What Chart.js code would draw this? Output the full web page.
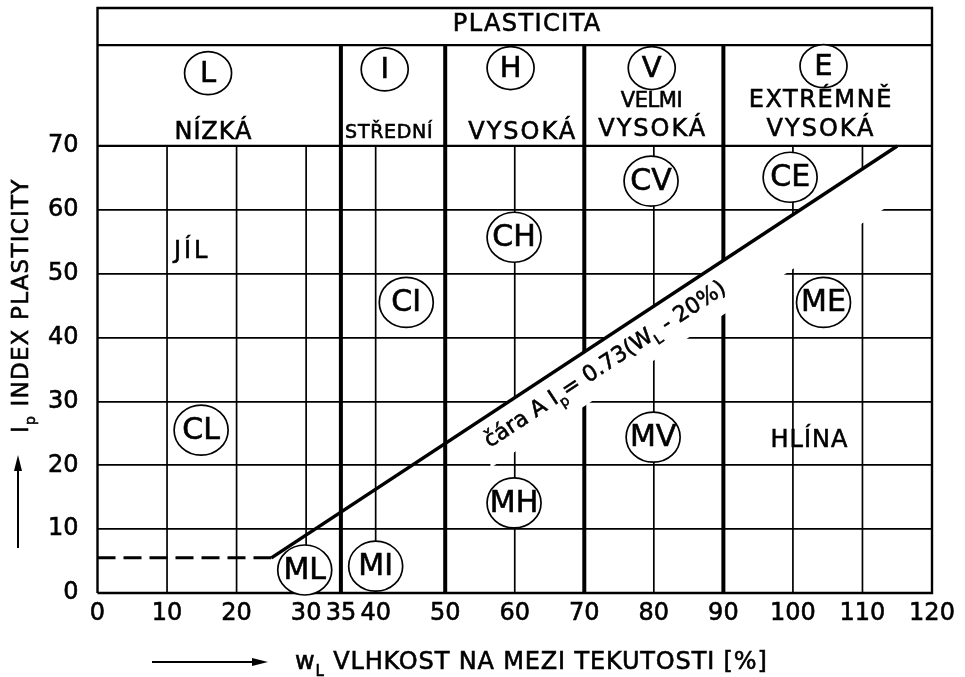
<!DOCTYPE html>
<html>
<head>
<meta charset="utf-8">
<script src="https://cdn.jsdelivr.net/npm/chart.js@4.4.0/dist/chart.umd.min.js"></script>
<style>
  html, body { margin: 0; padding: 0; background: #fff; }
  #wrap { width: 965px; height: 677px; }
</style>
</head>
<body>
<div id="wrap"><canvas id="plasticityChart"></canvas></div>
<script>
// axes
const xTicks = [0, 10, 20, 30, 35, 40, 50, 60, 70, 80, 90, 100, 110, 120];
const yTicks = [0, 10, 20, 30, 40, 50, 60, 70];
const xGrid = [10, 20, 30, 40, 60, 80, 100, 110];
const dividers = [35, 50, 70, 90];
const yTop = 91.6;      // top edge of the header box
const yHeader = 85.8;   // line under PLASTICITA

// A-line and its dashed continuation
const aLineX = [25, 115];
const aLineY = [5.5, 70];
const dashX = [0, 25];
const dashY = [5.5, 5.5];

// plasticity classes in the header
const classNames = ['L', 'I', 'H', 'V', 'E'];
const classX = [15.9, 41.3, 59.4, 79.7, 104.4];
const classY = [81.4, 82.0, 82.2, 82.2, 82.5];

const headerWords = ['NÍZKÁ', 'STŘEDNÍ', 'VYSOKÁ', 'VELMI', 'VYSOKÁ', 'EXTRÉMNĚ', 'VYSOKÁ'];
const headerWordX = [16.6, 41.9, 61.0, 79.7, 79.7, 103.9, 103.9];
const headerWordY = [72.1, 72.0, 72.1, 77.0, 72.5, 77.0, 72.5];

// soil groups
const groupNames = ['CL', 'CI', 'CH', 'CV', 'CE', 'ML', 'MI', 'MH', 'MV', 'ME'];
const groupX = [14.9, 44.4, 59.9, 79.6, 99.6, 29.8, 40.0, 59.9, 79.9, 104.4];
const groupY = [25.5, 45.5, 55.7, 64.5, 65.1, 3.6, 4.2, 14.1, 24.4, 45.5];

const soilWords = ['JÍL', 'HLÍNA'];
const soilWordX = [13.4, 102.3];
const soilWordY = [53.4, 23.9];

const FONT = '"DejaVu Sans", Verdana, sans-serif';
const bandDepth = 8.5;
const inkWidth = 0.6;   // extra stroke on text, the scan is heavy

// font size and letter spacing of the header words
const wordStyle = {
  'NÍZKÁ': [24, 0.9], 'STŘEDNÍ': [19, 0.7], 'VYSOKÁ': [24, 2],
  'VELMI': [21, -0.4], 'EXTRÉMNĚ': [24, 1.6], 'JÍL': [24, 3], 'HLÍNA': [24, 1]
};

function pts(xs, ys) {
  return xs.map((x, i) => ({ x: x, y: ys[i] }));
}

function lineSet(data, width, dash) {
  return {
    data: data,
    showLine: true,
    borderColor: '#000',
    borderWidth: width,
    borderDash: dash || [],
    pointRadius: 0,
    fill: false,
    clip: false
  };
}

const datasets = [
  lineSet(pts(aLineX, aLineY), 3.5),
  lineSet(pts(dashX, dashY), 3, [18, 8]),
  lineSet(pts([0, 120, 120, 0, 0], [0, 0, yTop, yTop, 0]), 2.4),
  lineSet(pts([0, 120], [yHeader, yHeader]), 2.2),
  lineSet(pts([0, 120], [70, 70]), 2.2)
];
dividers.forEach(d => datasets.push(lineSet(pts([d, d], [0, yHeader]), 4)));

function aLineAt(x) {
  const t = (x - aLineX[0]) / (aLineX[1] - aLineX[0]);
  return aLineY[0] + t * (aLineY[1] - aLineY[0]);
}

function inkText(ctx, text, x, y) {
  ctx.fillText(text, x, y);
  ctx.lineWidth = inkWidth;
  ctx.strokeText(text, x, y);
}

function spacedText(ctx, text, x, y, size, spacing) {
  ctx.font = size + 'px ' + FONT;
  ctx.letterSpacing = (spacing || 0) + 'px';
  ctx.textAlign = 'center';
  ctx.textBaseline = 'middle';
  inkText(ctx, text, x + (spacing || 0) / 2, y);
  ctx.letterSpacing = '0px';
}

// draws a run of text pieces, some of them as subscripts
function richText(ctx, parts, size, spacing) {
  let cx = 0;
  ctx.letterSpacing = spacing + 'px';
  ctx.textAlign = 'left';
  ctx.textBaseline = 'alphabetic';
  parts.forEach(p => {
    const s = p.sub ? Math.round(size * 0.62) : size;
    ctx.font = s + 'px ' + FONT;
    inkText(ctx, p.t, cx, p.sub ? size * 0.3 : 0);
    cx += ctx.measureText(p.t).width;
  });
  ctx.letterSpacing = '0px';
}

function arrow(ctx, x0, y0, x1, y1) {
  const ang = Math.atan2(y1 - y0, x1 - x0);
  ctx.beginPath();
  ctx.moveTo(x0, y0);
  ctx.lineTo(x1 - 12 * Math.cos(ang), y1 - 12 * Math.sin(ang));
  ctx.lineWidth = 2;
  ctx.stroke();
  ctx.beginPath();
  ctx.moveTo(x1, y1);
  ctx.lineTo(x1 - 16 * Math.cos(ang) + 4 * Math.sin(ang), y1 - 16 * Math.sin(ang) - 4 * Math.cos(ang));
  ctx.lineTo(x1 - 16 * Math.cos(ang) - 4 * Math.sin(ang), y1 - 16 * Math.sin(ang) + 4 * Math.cos(ang));
  ctx.closePath();
  ctx.fill();
}

const chartDecor = {
  id: 'chartDecor',
  beforeDatasetsDraw(chart) {
    const { ctx, scales: { x, y } } = chart;
    ctx.save();
    ctx.strokeStyle = '#000';
    ctx.lineWidth = 1.7;
    xGrid.forEach(v => {
      ctx.beginPath();
      ctx.moveTo(x.getPixelForValue(v), y.getPixelForValue(0));
      ctx.lineTo(x.getPixelForValue(v), y.getPixelForValue(70));
      ctx.stroke();
    });
    ctx.restore();
  },
  beforeDatasetDraw(chart, args) {
    if (args.index !== 0) return;
    // white band under the A-line where the label sits
    const { ctx, scales: { x, y } } = chart;
    const x0 = 56.5, x1 = aLineX[1];
    ctx.save();
    ctx.fillStyle = '#fff';
    ctx.beginPath();
    ctx.moveTo(x.getPixelForValue(x0), y.getPixelForValue(aLineAt(x0)));
    ctx.lineTo(x.getPixelForValue(x1), y.getPixelForValue(aLineAt(x1)));
    ctx.lineTo(x.getPixelForValue(x1), y.getPixelForValue(aLineAt(x1) - bandDepth));
    ctx.lineTo(x.getPixelForValue(x0), y.getPixelForValue(aLineAt(x0) - bandDepth));
    ctx.closePath();
    ctx.fill();
    ctx.restore();
  },
  afterDatasetsDraw(chart) {
    const { ctx, scales: { x, y } } = chart;
    ctx.save();
    ctx.fillStyle = '#000';
    ctx.strokeStyle = '#000';

    const ellipse = (px, py, rx, ry) => {
      ctx.beginPath();
      ctx.ellipse(px, py, rx, ry, 0, 0, Math.PI * 2);
      ctx.fillStyle = '#fff';
      ctx.fill();
      ctx.lineWidth = 1.7;
      ctx.stroke();
      ctx.fillStyle = '#000';
    };

    classNames.forEach((n, i) => {
      const px = x.getPixelForValue(classX[i]), py = y.getPixelForValue(classY[i]);
      ellipse(px, py, 23.5, 21.5);
      spacedText(ctx, n, px, py + 1, 29, 0);
    });
    groupNames.forEach((n, i) => {
      const px = x.getPixelForValue(groupX[i]), py = y.getPixelForValue(groupY[i]);
      ellipse(px, py, 27, 25);
      spacedText(ctx, n, px, py + 1, 30, 0);
    });

    spacedText(ctx, 'PLASTICITA', x.getPixelForValue(61.7), y.getPixelForValue(88.9), 24, 1.4);
    headerWords.forEach((w, i) => {
      const st = wordStyle[w];
      spacedText(ctx, w, x.getPixelForValue(headerWordX[i]), y.getPixelForValue(headerWordY[i]), st[0], st[1]);
    });
    soilWords.forEach((w, i) => {
      const st = wordStyle[w];
      spacedText(ctx, w, x.getPixelForValue(soilWordX[i]), y.getPixelForValue(soilWordY[i]), st[0], st[1]);
    });

    // A-line label, parallel to the line
    const p0 = { x: x.getPixelForValue(aLineX[0]), y: y.getPixelForValue(aLineY[0]) };
    const p1 = { x: x.getPixelForValue(aLineX[1]), y: y.getPixelForValue(aLineY[1]) };
    const ang = Math.atan2(p1.y - p0.y, p1.x - p0.x);
    ctx.translate(x.getPixelForValue(56.4), y.getPixelForValue(22.7));
    ctx.rotate(ang);
    richText(ctx, [
      { t: 'čára A I' }, { t: 'p', sub: true }, { t: '= 0.73(W' }, { t: 'L', sub: true }, { t: ' - 20%)' }
    ], 22, 0);
    ctx.restore();
  },
  afterDraw(chart) {
    const { ctx } = chart;
    ctx.save();
    ctx.fillStyle = '#000';
    ctx.strokeStyle = '#000';
    // x axis title
    ctx.translate(295, 669);
    richText(ctx, [{ t: 'w' }, { t: 'L', sub: true }, { t: ' VLHKOST NA MEZI TEKUTOSTI [%]' }], 24, 0.85);
    ctx.restore();

    ctx.save();
    ctx.fillStyle = '#000';
    ctx.strokeStyle = '#000';
    ctx.translate(28, 433);
    ctx.rotate(-Math.PI / 2);
    richText(ctx, [{ t: 'I' }, { t: 'p', sub: true }, { t: ' INDEX PLASTICITY' }], 23, 1.2);
    ctx.restore();

    ctx.save();
    ctx.fillStyle = '#000';
    ctx.strokeStyle = '#000';
    arrow(ctx, 152, 662, 268, 662);
    arrow(ctx, 18, 548, 18, 455);
    ctx.restore();
  }
};

Chart.defaults.color = '#000';
Chart.defaults.font.family = FONT;

new Chart(document.getElementById('plasticityChart'), {
  type: 'scatter',
  data: { datasets: datasets },
  options: {
    responsive: true,
    maintainAspectRatio: false,
    animation: false,
    layout: { padding: { top: 8, right: 33, left: 0, bottom: 0 } },
    plugins: { legend: { display: false }, tooltip: { enabled: false } },
    scales: {
      x: {
        type: 'linear',
        min: 0,
        max: 120,
        afterBuildTicks: s => { s.ticks = xTicks.map(v => ({ value: v })); },
        afterFit: s => { s.height = 84; s.paddingLeft = 0; s.paddingRight = 0; },
        ticks: {
          autoSkip: false, maxRotation: 0, padding: 6, font: { size: 24 },
          textStrokeColor: '#000', textStrokeWidth: inkWidth
        },
        grid: { display: false, drawTicks: false },
        border: { display: false }
      },
      y: {
        type: 'linear',
        min: 0,
        max: yTop,
        afterBuildTicks: s => { s.ticks = yTicks.map(v => ({ value: v })); },
        afterFit: s => { s.width = 97.5; s.paddingTop = 0; s.paddingBottom = 0; },
        ticks: {
          padding: 19, font: { size: 24 },
          textStrokeColor: '#000', textStrokeWidth: inkWidth
        },
        grid: { color: '#000', lineWidth: 1.7, drawTicks: false },
        border: { display: false }
      }
    }
  },
  plugins: [chartDecor]
});
</script>
</body>
</html>
